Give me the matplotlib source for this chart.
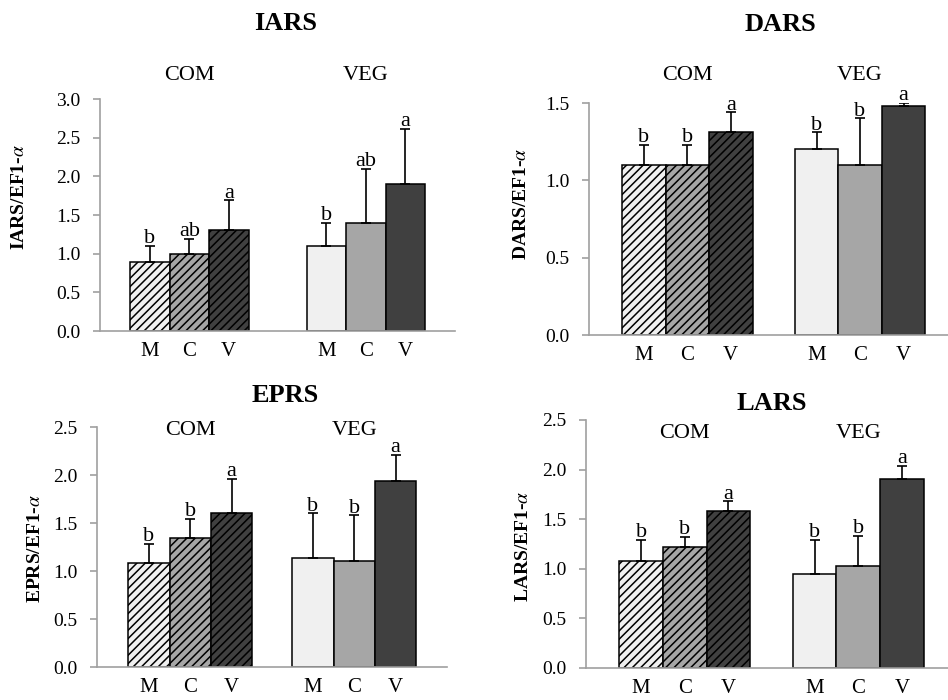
import numpy as np
import matplotlib
matplotlib.use('Agg')
import matplotlib.pyplot as plt
from matplotlib.transforms import blended_transform_factory

plt.rcParams['font.family'] = ['Liberation Serif', 'DejaVu Serif']
plt.rcParams['mathtext.fontset'] = 'stix'
plt.rcParams['hatch.linewidth'] = 1.1

# data (relative expression, mean and upper SD)
groups = ['COM', 'VEG']
diets = ['M', 'C', 'V']

iars_mean = [0.89, 1.00, 1.31, 1.10, 1.40, 1.90]
iars_err = [0.21, 0.19, 0.38, 0.30, 0.70, 0.71]
iars_sig = ['b', 'ab', 'a', 'b', 'ab', 'a']

dars_mean = [1.10, 1.10, 1.31, 1.20, 1.10, 1.48]
dars_err = [0.13, 0.13, 0.13, 0.11, 0.30, 0.02]
dars_sig = ['b', 'b', 'a', 'b', 'b', 'a']

eprs_mean = [1.08, 1.34, 1.60, 1.14, 1.10, 1.94]
eprs_err = [0.20, 0.20, 0.36, 0.46, 0.48, 0.27]
eprs_sig = ['b', 'b', 'a', 'b', 'b', 'a']

lars_mean = [1.08, 1.22, 1.58, 0.95, 1.03, 1.91]
lars_err = [0.21, 0.10, 0.10, 0.34, 0.30, 0.13]
lars_sig = ['b', 'b', 'a', 'b', 'b', 'a']

W, H = 948, 700
fig = plt.figure(figsize=(W / 100, H / 100), dpi=100)

fills = ['#f0f0f0', '#a6a6a6', '#404040']
axis_grey = '#a0a0a0'


def px(x, y):
    return x / W, 1 - y / H


def panel(name, mean, err, sig, rect, ymax, bar_px, gap, title_xy, label_xy, group_y):
    left, right, y0, ytop = rect
    ax = fig.add_axes([left / W, 1 - y0 / H, (right - left) / W, (y0 - ytop) / H])

    pos = [0, 1, 2, 3 + gap, 4 + gap, 5 + gap]
    for i in range(6):
        # COM bars are hatched, VEG bars plain
        ax.bar(pos[i], mean[i], width=1.0, color=fills[i % 3], edgecolor='black',
               hatch='////' if i < 3 else None, linewidth=1.1, zorder=2)
    ax.errorbar(pos, mean, yerr=[np.zeros(6), err], fmt='none', ecolor='black',
                elinewidth=1.2, capsize=3.5, capthick=1.2, zorder=3)

    for i in range(6):
        ax.annotate(sig[i], (pos[i], mean[i] + err[i]), xytext=(0, 2),
                    textcoords='offset points', ha='center', va='baseline',
                    fontsize=16, annotation_clip=False)

    lm = 0.76
    ax.set_xlim(-0.5 - lm, -0.5 - lm + (right - left) / bar_px)
    ax.set_ylim(0, ymax)
    ticks = np.arange(0, ymax + 0.01, 0.5)
    ax.set_yticks(ticks)
    ax.set_yticklabels(['%.1f' % v for v in ticks])
    ax.set_xticks(pos)
    ax.set_xticklabels(diets * 2)

    for s in ['top', 'right']:
        ax.spines[s].set_visible(False)
    for s in ['left', 'bottom']:
        ax.spines[s].set_color(axis_grey)
        ax.spines[s].set_linewidth(1.2)
    ax.tick_params(axis='y', direction='out', length=5, width=1.2, color=axis_grey,
                   labelsize=14, pad=9)
    ax.tick_params(axis='x', length=0, labelsize=15, pad=8)

    # group labels above each triplet
    tr = blended_transform_factory(ax.transData, fig.transFigure)
    ax.text(1, 1 - group_y / H, groups[0], transform=tr, ha='center', va='baseline', fontsize=16)
    ax.text(4 + gap, 1 - group_y / H, groups[1], transform=tr, ha='center', va='baseline', fontsize=16)

    fig.text(*px(*title_xy), name, ha='center', va='baseline', fontsize=19, fontweight='bold')
    fig.text(*px(*label_xy), name + '/EF1-$\\alpha$', rotation=90, ha='center', va='center',
             fontsize=14, fontweight='bold')
    return ax


panel('IARS', iars_mean, iars_err, iars_sig, (100, 455, 331, 99), 3.0, 39.5, 1.47,
      (286, 30), (20, 197), 80)
panel('DARS', dars_mean, dars_err, dars_sig, (589, 948, 335, 103), 1.5, 43.5, 0.97,
      (780, 31), (521, 204), 80)
panel('EPRS', eprs_mean, eprs_err, eprs_sig, (97, 447, 667, 427), 2.5, 41.3, 0.97,
      (285, 402), (36, 548), 435)
panel('LARS', lars_mean, lars_err, lars_sig, (586, 948, 668, 420), 2.5, 43.7, 0.97,
      (772, 410), (523, 546), 438)

fig.savefig('out.png', dpi=100)
